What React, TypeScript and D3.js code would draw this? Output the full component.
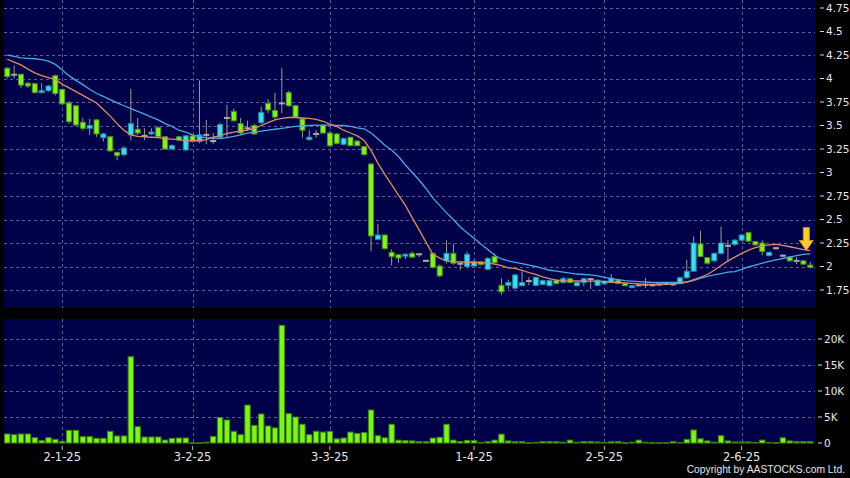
import React from 'react';
import * as d3 from 'd3';

// Bar index -8 .. 109 (trading days; index 0 = 2-1-25)
const firstIndex = -8;
const opens = [4.11,4.04,4.045,3.95,3.945,3.85,3.87,4.03,3.885,3.74,3.71,3.535,3.47,3.56,3.37,3.38,3.215,3.19,3.40,3.46,3.39,3.41,3.48,3.38,3.25,3.38,3.24,3.39,3.33,3.40,3.335,3.375,3.58,3.65,3.52,3.47,3.50,3.53,3.735,3.66,3.735,3.85,3.71,3.57,3.35,3.41,3.50,3.42,3.41,3.30,3.375,3.335,3.275,3.09,2.29,2.335,2.15,2.125,2.11,2.14,2.13,2.06,2.14,2.005,2.06,2.14,2.03,2.00,2.005,2.05,1.97,2.105,1.80,1.80,1.77,1.795,1.845,1.80,1.81,1.795,1.855,1.83,1.87,1.795,1.83,1.865,1.80,1.815,1.83,1.855,1.82,1.775,1.80,1.805,1.80,1.80,1.815,1.81,1.82,1.88,1.95,2.24,2.095,2.06,2.14,2.22,2.235,2.28,2.36,2.265,2.25,2.115,2.195,2.115,2.10,2.06,2.06,2.015];
const highs = [4.12,4.14,4.05,3.96,3.95,3.95,3.93,4.04,3.89,3.76,3.71,3.58,3.57,3.57,3.42,3.39,3.22,3.28,3.89,3.58,3.47,3.47,3.49,3.39,3.30,3.39,3.40,3.40,3.98,3.56,3.42,3.53,3.72,3.68,3.58,3.55,3.52,3.70,3.78,3.85,4.11,3.87,3.72,3.58,3.45,3.45,3.51,3.44,3.42,3.37,3.38,3.34,3.28,3.10,2.45,2.34,2.18,2.13,2.14,2.16,2.14,2.07,2.15,2.02,2.28,2.24,2.06,2.16,2.07,2.06,2.10,2.14,1.875,1.86,1.92,1.96,1.89,1.89,1.86,1.86,1.86,1.89,1.88,1.84,1.88,1.88,1.86,1.85,1.92,1.86,1.83,1.80,1.81,1.88,1.81,1.83,1.82,1.82,1.89,2.07,2.32,2.38,2.10,2.15,2.425,2.28,2.29,2.34,2.37,2.27,2.28,2.16,2.21,2.13,2.11,2.10,2.07,2.05];
const lows = [4.00,4.00,3.90,3.90,3.84,3.84,3.86,3.82,3.72,3.52,3.50,3.45,3.40,3.38,3.33,3.22,3.13,3.17,3.34,3.40,3.345,3.40,3.37,3.24,3.24,3.33,3.23,3.32,3.31,3.30,3.30,3.36,3.37,3.54,3.40,3.44,3.40,3.51,3.63,3.56,3.63,3.70,3.58,3.37,3.34,3.37,3.41,3.27,3.30,3.29,3.28,3.28,3.18,2.16,2.28,2.18,2.01,2.04,2.08,2.09,2.10,2.05,1.98,1.89,2.03,2.02,1.96,1.99,2.00,2.01,1.96,2.03,1.70,1.76,1.76,1.79,1.80,1.79,1.80,1.79,1.81,1.82,1.82,1.79,1.79,1.76,1.79,1.81,1.82,1.81,1.79,1.77,1.79,1.77,1.79,1.79,1.80,1.79,1.81,1.87,1.94,2.10,2.02,2.05,2.13,2.05,2.22,2.27,2.26,2.22,2.12,2.11,2.18,2.10,2.05,2.025,2.02,1.98];
const closes = [4.02,4.04,3.93,3.92,3.85,3.87,3.92,3.84,3.73,3.54,3.505,3.47,3.50,3.41,3.41,3.23,3.18,3.26,3.52,3.42,3.39,3.43,3.38,3.25,3.285,3.345,3.39,3.33,3.40,3.40,3.335,3.51,3.58,3.55,3.42,3.47,3.41,3.64,3.665,3.59,3.735,3.71,3.59,3.45,3.375,3.41,3.42,3.285,3.31,3.36,3.285,3.285,3.19,2.325,2.335,2.19,2.105,2.09,2.13,2.10,2.13,2.06,1.99,1.90,2.14,2.035,2.03,2.13,2.05,2.02,2.085,2.04,1.73,1.83,1.91,1.83,1.845,1.885,1.85,1.85,1.82,1.87,1.83,1.83,1.87,1.865,1.855,1.845,1.875,1.82,1.795,1.795,1.80,1.805,1.80,1.82,1.815,1.81,1.88,1.95,2.25,2.105,2.035,2.14,2.25,2.22,2.28,2.335,2.27,2.23,2.16,2.15,2.195,2.115,2.06,2.06,2.025,1.99];
const volumes = [1730,1600,1730,1730,1020,450,1020,700,320,2440,2440,1220,1220,900,900,2240,1350,1350,16600,3140,1150,1150,1150,570,900,960,960,30,30,150,1250,4900,4420,2250,1600,7300,3400,5580,3270,2900,22630,5640,5000,3600,1600,2250,2100,2250,800,950,2100,1850,2000,6350,1400,1000,3600,550,450,400,250,250,950,1100,3600,550,300,500,450,100,250,550,1700,400,250,250,30,100,250,250,250,150,550,150,250,250,200,100,250,250,50,150,550,150,50,50,50,250,100,700,2500,800,400,150,1400,400,200,200,200,100,550,100,50,1000,400,250,250,250];
// Moving averages (orange = short, blue = long)
const maShort = [4.205,4.175,4.145,4.10,4.06,4.03,4.01,3.99,3.94,3.90,3.86,3.82,3.78,3.74,3.67,3.60,3.52,3.45,3.40,3.385,3.38,3.375,3.37,3.36,3.355,3.35,3.34,3.34,3.34,3.35,3.375,3.39,3.415,3.43,3.44,3.45,3.47,3.50,3.53,3.56,3.575,3.585,3.585,3.58,3.575,3.565,3.545,3.515,3.49,3.45,3.42,3.39,3.34,3.235,3.10,2.98,2.87,2.76,2.65,2.52,2.39,2.26,2.13,2.09,2.06,2.05,2.05,2.045,2.045,2.04,2.035,2.025,2.01,1.985,1.98,1.96,1.935,1.915,1.89,1.87,1.855,1.85,1.848,1.846,1.845,1.845,1.845,1.84,1.835,1.83,1.825,1.82,1.815,1.81,1.81,1.81,1.812,1.815,1.82,1.835,1.86,1.885,1.915,1.96,2.01,2.06,2.10,2.14,2.175,2.20,2.22,2.23,2.235,2.225,2.21,2.195,2.18,2.17];
const maLong = [4.25,4.235,4.22,4.215,4.21,4.20,4.185,4.15,4.09,4.03,3.98,3.935,3.885,3.84,3.81,3.775,3.74,3.71,3.68,3.65,3.62,3.59,3.56,3.52,3.49,3.45,3.43,3.40,3.38,3.37,3.365,3.36,3.37,3.385,3.40,3.42,3.43,3.44,3.45,3.46,3.47,3.48,3.49,3.495,3.50,3.505,3.505,3.505,3.50,3.50,3.49,3.475,3.465,3.42,3.36,3.29,3.24,3.17,3.08,3.00,2.92,2.83,2.73,2.65,2.57,2.50,2.42,2.36,2.30,2.24,2.18,2.12,2.08,2.06,2.045,2.03,2.015,2.0,1.98,1.96,1.95,1.94,1.93,1.92,1.915,1.91,1.90,1.885,1.87,1.86,1.85,1.845,1.84,1.835,1.83,1.83,1.83,1.83,1.83,1.835,1.85,1.875,1.895,1.91,1.925,1.94,1.945,1.97,1.995,2.015,2.035,2.055,2.07,2.085,2.10,2.115,2.13,2.135];

const tickIndex = [0, 19, 39, 60, 79, 99];
const tickLabels = ['2-1-25', '3-2-25', '3-3-25', '1-4-25', '2-5-25', '2-6-25'];
const priceTicks = [1.75, 2, 2.25, 2.5, 2.75, 3, 3.25, 3.5, 3.75, 4, 4.25, 4.5, 4.75];
const priceLabels = ['1.75', '2', '2.25', '2.5', '2.75', '3', '3.25', '3.5', '3.75', '4', '4.25', '4.5', '4.75'];
const volTicks = [0, 5000, 10000, 15000, 20000];
const volLabels = ['0', '5K', '10K', '15K', '20K'];

const W = 850, H = 478;
const PL = 4, PR = 815;
const P_TOP = 0, P_BOT = 308;
const V_TOP = 319, V_BOT = 444;

const GREEN = '#84f02a', GREEN_EDGE = '#4a8f18';
const CYAN = '#3fdcf0', CYAN_EDGE = '#1d8ea3';
const GRID = '#5c5c9c';
const NAVY = '#000048';

export default function App() {
  const n = closes.length;
  const idx = d3.range(n).map((k) => k + firstIndex);
  const x = d3.scaleLinear().domain([firstIndex, firstIndex + n - 1]).range([7.3, 810.3]);
  const yP = d3.scaleLinear().domain([1.75, 4.75]).range([290, 8]);
  const yV = d3.scaleLinear().domain([0, 20000]).range([443, 339]);
  const lineGen = d3.line<number>().x((_, k) => x(idx[k])).y((d) => yP(d));
  const bw = 5;

  return (
    <svg width={W} height={H} style={{ position: 'fixed', left: 0, top: 0, display: 'block', background: '#000' }}
      fontFamily="DejaVu Sans, Verdana, sans-serif">
      <rect x={0} y={0} width={W} height={H} fill="#000" />
      <rect x={PL} y={P_TOP} width={PR - PL} height={P_BOT - P_TOP} fill={NAVY} />
      <rect x={PL} y={V_TOP} width={PR - PL} height={V_BOT - V_TOP} fill={NAVY} />

      {/* grid */}
      {priceTicks.map((p) => (
        <line key={'hg' + p} x1={PL} x2={PR} y1={Math.round(yP(p)) + 0.5} y2={Math.round(yP(p)) + 0.5}
          stroke={GRID} strokeDasharray="3,3" strokeWidth={1} />
      ))}
      {volTicks.slice(1).map((v) => (
        <line key={'vg' + v} x1={PL} x2={PR} y1={Math.round(yV(v)) + 0.5} y2={Math.round(yV(v)) + 0.5}
          stroke={GRID} strokeDasharray="3,3" strokeWidth={1} />
      ))}
      {tickIndex.map((t) => (
        <g key={'xg' + t}>
          <line x1={Math.round(x(t)) + 0.5} x2={Math.round(x(t)) + 0.5} y1={P_TOP} y2={P_BOT}
            stroke={GRID} strokeDasharray="3,3" />
          <line x1={Math.round(x(t)) + 0.5} x2={Math.round(x(t)) + 0.5} y1={V_TOP} y2={V_BOT}
            stroke={GRID} strokeDasharray="3,3" />
        </g>
      ))}

      {/* candles */}
      {idx.map((i, k) => {
        const o = opens[k], c = closes[k], h = highs[k], l = lows[k];
        const cx = x(i);
        const up = c > o, doji = c === o;
        const top = yP(Math.max(o, c)), bot = yP(Math.min(o, c));
        return (
          <g key={'c' + i}>
            <line x1={cx} x2={cx} y1={yP(h)} y2={yP(l)} stroke="#9a9a9a" strokeWidth={1} />
            {doji ? (
              <rect x={cx - bw / 2 - 0.5} y={top - 1} width={bw + 1} height={2} fill="#a8a8a8" />
            ) : (
              <rect x={cx - bw / 2} y={top} width={bw} height={Math.max(bot - top, 1.5)}
                fill={up ? CYAN : GREEN} stroke={up ? CYAN_EDGE : GREEN_EDGE} strokeWidth={1} />
            )}
          </g>
        );
      })}

      {/* moving averages */}
      <path d={lineGen(maLong) || ''} fill="none" stroke="#4aa6e6" strokeWidth={1.3} />
      <path d={lineGen(maShort) || ''} fill="none" stroke="#e08a5e" strokeWidth={1.3} />

      {/* arrow marker at last bar */}
      {(() => {
        const ax = x(idx[n - 1]) - 4;
        const tip = yP(maShort[n - 1]);
        const pts = [
          [ax - 3, tip - 23], [ax + 3, tip - 23], [ax + 3, tip - 10], [ax + 7, tip - 10],
          [ax, tip], [ax - 7, tip - 10], [ax - 3, tip - 10],
        ].map((p) => p.join(',')).join(' ');
        return <polygon points={pts} fill="#ffcb2e" stroke="#c8961a" strokeWidth={1} />;
      })()}

      {/* volume bars */}
      {idx.map((i, k) => {
        const v = volumes[k];
        const top = yV(v);
        return (
          <rect key={'v' + i} x={x(i) - 2.7} y={top} width={5.4} height={Math.max(yV(0) - top, 0.5)}
            fill="#7cf51c" stroke="#3f8010" strokeWidth={1} />
        );
      })}

      {/* right axis: price */}
      {priceTicks.map((p, k) => (
        <g key={'pl' + p}>
          <line x1={820} x2={824} y1={yP(p)} y2={yP(p)} stroke="#d8d8d8" />
          <text x={826} y={yP(p)} dy="0.35em" fontSize={10.5} fill="#e6e6e6">{priceLabels[k]}</text>
        </g>
      ))}
      {/* right axis: volume */}
      {volTicks.map((v, k) => (
        <g key={'vl' + v}>
          <line x1={818} x2={822} y1={yV(v)} y2={yV(v)} stroke="#d8d8d8" />
          <text x={824} y={yV(v)} dy="0.35em" fontSize={10.5} fill="#e6e6e6">{volLabels[k]}</text>
        </g>
      ))}

      {/* x axis */}
      {tickIndex.map((t, k) => (
        <g key={'xt' + t}>
          <line x1={x(t)} x2={x(t)} y1={446} y2={450} stroke="#bbbbbb" />
          <text x={x(t)} y={461} textAnchor="middle" fontSize={11.5} fill="#e6e6e6">{tickLabels[k]}</text>
        </g>
      ))}

      <text x={845} y={473} textAnchor="end" fontSize={10.3} fill="#e6e6e6"
        fontFamily="Liberation Sans, Arial, sans-serif">Copyright by AASTOCKS.com Ltd.</text>
    </svg>
  );
}
